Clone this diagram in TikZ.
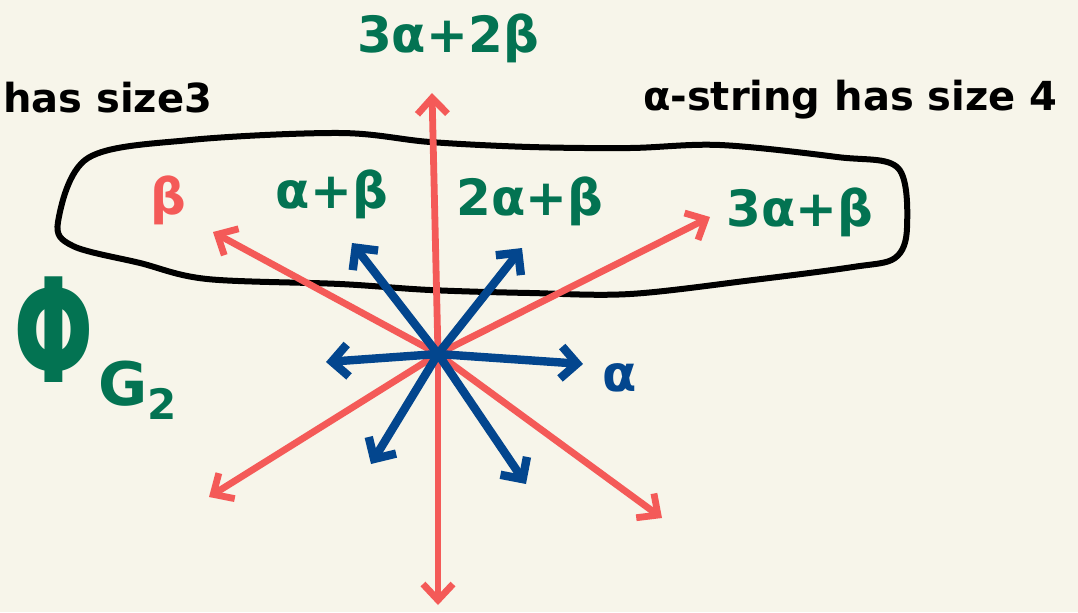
\documentclass[tikz,border=0pt]{standalone}
\usepackage{fontspec}
\setmainfont{DejaVu Sans}
\usetikzlibrary{arrows.meta}
\definecolor{paper}{HTML}{F7F5EA}
\definecolor{rootred}{HTML}{F45A58}
\definecolor{rootblue}{HTML}{03468E}
\definecolor{labelgreen}{HTML}{037352}

\begin{document}
\begin{tikzpicture}[x=0.5pt,y=-0.5pt,
  longroot/.style={rootred,line width=3.4pt,line cap=round,
                   -{Straight Barb[length=8pt,width=15pt]}},
  shortroot/.style={rootblue,line width=4.2pt,line cap=round,
                    -{Straight Barb[length=8pt,width=16pt]}},
  rootlabel/.style={labelgreen,font=\fontsize{25}{28}\selectfont\bfseries},
  note/.style={font=\fontsize{20}{24}\selectfont\bfseries}]
  \fill[paper] (0,0) rectangle (1078,612);
  \useasboundingbox (0,0) rectangle (1078,612);

  % the outline round the top row
  \draw[line width=3pt,line join=round] plot[smooth cycle,tension=0.55] coordinates
    {(58,222) (88,158) (190,140) (340,133) (430,142) (530,147) (630,148)
     (720,145) (837,157) (898,168) (907,228) (895,258) (853,267)
     (753,280) (630,294) (530,293) (430,290) (340,284) (207,279)
     (140,263) (73,246)};

  \coordinate (O) at (438,354);
  % long roots
  \coordinate (up)    at (432,93);
  \coordinate (down)  at (438,605);
  \coordinate (b)     at (213,232);
  \coordinate (dl)    at (209,497);
  \coordinate (ab3)   at (710,217);
  \coordinate (dr)    at (662,518);
  % short roots
  \coordinate (a)     at (583,364);
  \coordinate (l)     at (326,362);
  \coordinate (ab)    at (352,243);
  \coordinate (ab2)   at (522,248);
  \coordinate (sdl)   at (371,464);
  \coordinate (sdr)   at (526,484);

  \foreach \tip in {up,down,b,dl,ab3,dr}
    \draw[longroot] (O) -- (\tip);
  \foreach \tip in {a,l,ab,ab2,sdl,sdr}
    \draw[shortroot] (O) -- (\tip);

  \node[rootlabel] (lup)  at (448,38)  {3α+2β};
  \node[rootlabel,rootred] (lb) at (168,200) {β};
  \node[rootlabel] (lab)  at (332,194) {α+β};
  \node[rootlabel] (lab2) at (530,201) {2α+β};
  \node[rootlabel] (lab3) at (800,212) {3α+β};
  \node[rootlabel,rootblue] (la) at (620,378) {α};

  \node[labelgreen,font=\fontsize{50}{56}\selectfont\bfseries] (phi) at (54,330)
    {\scalebox{0.95}[1.45]{Φ}};
  \node[labelgreen,font=\fontsize{30}{34}\selectfont\bfseries] (g2) at (138,390) {G\textsubscript{2}};

  \node[note,anchor=west] (left)  at (-4,98) {has size3};
  \node[note,anchor=west] (right) at (636,100) {α-string has size 4};
\end{tikzpicture}
\end{document}
